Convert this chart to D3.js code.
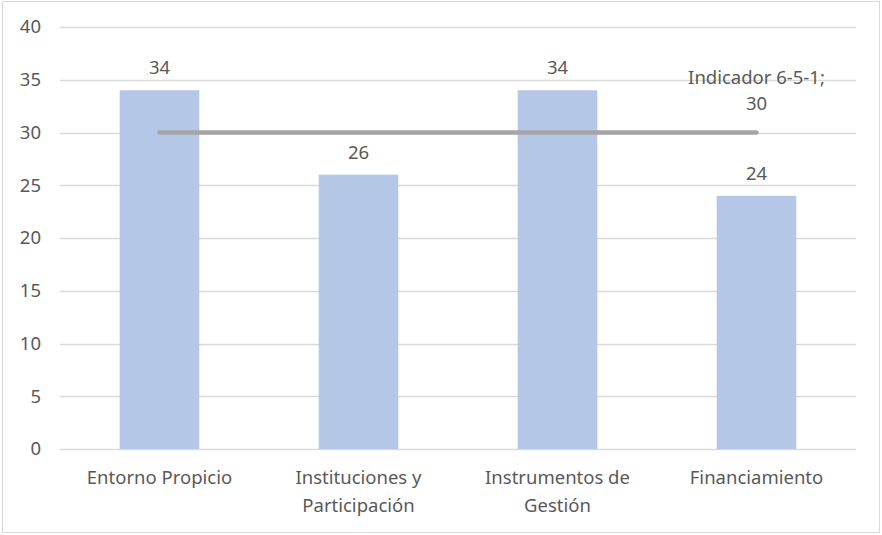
<!DOCTYPE html>
<html>
<head>
<meta charset="utf-8">
<script src="https://cdn.jsdelivr.net/npm/d3@7"></script>
<style>
  body { margin: 0; background: #fff; }
  text { font-family: "Noto Sans", "Open Sans", sans-serif; fill: #595959; }
</style>
</head>
<body>
<div id="chart"></div>
<script>
// chart values
const categories = [["Entorno Propicio"], ["Instituciones y", "Participación"], ["Instrumentos de", "Gestión"], ["Financiamiento"]];
const barValues = [34, 26, 34, 24];
const indicatorValues = [30, 30, 30, 30];
const indicatorName = "Indicador 6-5-1;";
const yTicks = [0, 5, 10, 15, 20, 25, 30, 35, 40];

const W = 882, H = 535;
const margin = {top: 27, right: 26, bottom: 86, left: 60};
const fs = "18.5px";

const svg = d3.select("#chart").append("svg")
    .attr("width", W)
    .attr("height", H);

// outer frame
svg.append("rect")
    .attr("x", 2.5).attr("y", 1.5)
    .attr("width", 877).attr("height", 531)
    .attr("fill", "#fff")
    .attr("stroke", "#d9d9d9")
    .attr("stroke-width", 1);

const keys = categories.map((c, i) => i);

const x = d3.scaleBand()
    .domain(keys)
    .range([margin.left, W - margin.right])
    .paddingInner(0.6)
    .paddingOuter(0.3);

const y = d3.scaleLinear()
    .domain([0, 40])
    .range([H - margin.bottom, margin.top]);

// gridlines
svg.append("g")
  .selectAll("line")
  .data(yTicks)
  .join("line")
    .attr("x1", margin.left)
    .attr("x2", W - margin.right)
    .attr("y1", d => Math.round(y(d)) + 0.5)
    .attr("y2", d => Math.round(y(d)) + 0.5)
    .attr("stroke", "#d9d9d9")
    .attr("stroke-width", 1.5);

// y tick labels
svg.append("g")
  .selectAll("text")
  .data(yTicks)
  .join("text")
    .attr("x", 41)
    .attr("y", d => y(d))
    .attr("dy", "0.35em")
    .attr("text-anchor", "end")
    .attr("font-size", fs)
    .text(d => d);

// bars
svg.append("g")
  .selectAll("rect")
  .data(barValues)
  .join("rect")
    .attr("x", (d, i) => x(i))
    .attr("y", d => y(d))
    .attr("width", x.bandwidth())
    .attr("height", d => y(0) - y(d))
    .attr("fill", "#b4c7e7");

// bar labels
svg.append("g")
  .selectAll("text")
  .data(barValues)
  .join("text")
    .attr("x", (d, i) => x(i) + x.bandwidth() / 2)
    .attr("y", d => y(d) - 16)
    .attr("text-anchor", "middle")
    .attr("font-size", fs)
    .text(d => d);

// indicator line
const cx = i => x(i) + x.bandwidth() / 2;
svg.append("path")
    .datum(indicatorValues)
    .attr("fill", "none")
    .attr("stroke", "#a5a5a5")
    .attr("stroke-width", 4.5)
    .attr("stroke-linecap", "round")
    .attr("d", d3.line()
        .x((d, i) => cx(i))
        .y(d => y(d)));

// indicator label at last point
const last = indicatorValues.length - 1;
const lbl = svg.append("text")
    .attr("x", cx(last))
    .attr("y", y(indicatorValues[last]) - 49)
    .attr("text-anchor", "middle")
    .attr("font-size", fs);
lbl.append("tspan").attr("x", cx(last)).attr("dy", 0).text(indicatorName);
lbl.append("tspan").attr("x", cx(last)).attr("dy", 26).text(indicatorValues[last]);

// category labels
svg.append("g")
  .selectAll("text")
  .data(categories)
  .join("text")
    .attr("text-anchor", "middle")
    .attr("font-size", fs)
    .each(function(lines, i) {
      const t = d3.select(this);
      lines.forEach((ln, j) => {
        t.append("tspan")
          .attr("x", cx(i))
          .attr("y", 484 + j * 28)
          .text(ln);
      });
    });
</script>
</body>
</html>
